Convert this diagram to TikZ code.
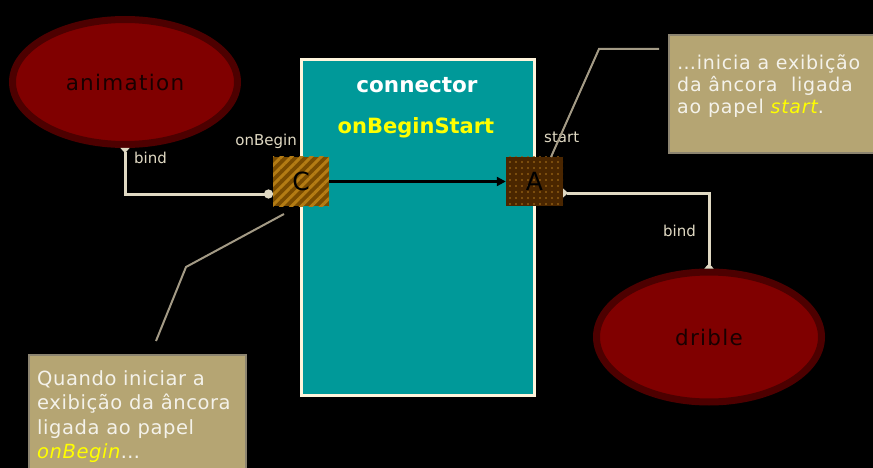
\documentclass[tikz,border=0pt]{standalone}
\usepackage{fontspec}
\setmainfont{DejaVu Sans}
\usetikzlibrary{shapes.geometric,patterns.meta,arrows.meta}
\definecolor{ellfill}{HTML}{800000}
\definecolor{ellborder}{HTML}{4D0000}
\definecolor{connteal}{HTML}{009999}
\definecolor{conncream}{HTML}{FFF5DC}
\definecolor{bindc}{HTML}{E0D9C3}
\definecolor{notec}{HTML}{B5A573}
\definecolor{noteborder}{HTML}{8C8470}
\definecolor{calloutc}{HTML}{A39A85}
\definecolor{yel}{HTML}{FFFF00}
\definecolor{notetext}{HTML}{F4F2EA}
\definecolor{cbase}{HTML}{7A4C00}
\definecolor{cstripe}{HTML}{B47C14}
\definecolor{abase}{HTML}{4A2600}
\definecolor{adot}{HTML}{8E5C12}
\tikzset{
  rolenode/.style={ellipse, draw=ellborder, line width=7pt, fill=ellfill,
    minimum width=225pt, minimum height=125pt, text=black!90!red,
    font=\fontsize{21.5}{24}\selectfont\addfontfeature{LetterSpace=6}},
  portC/.style={fill=cbase, postaction={pattern={Lines[angle=45,distance=7pt,line width=3pt]}, pattern color=cstripe},
    minimum width=56pt, minimum height=49pt, inner sep=0pt, font=\fontsize{25}{25}\selectfont, text=black},
  portA/.style={fill=abase, postaction={pattern={Dots[radius=1.1pt,distance=6pt]}, pattern color=adot},
    minimum width=57pt, minimum height=49pt, inner sep=0pt, font=\fontsize{25}{25}\selectfont, text=black},
  bindline/.style={draw=bindc, line width=3pt},
  calloutline/.style={draw=calloutc, line width=2pt},
  smalllabel/.style={text=bindc, font=\fontsize{15}{18}\selectfont, inner sep=0pt},
  notebox/.style={fill=notec, draw=noteborder, line width=2pt},
  notetxt/.style={text=notetext, align=left, inner sep=0pt, anchor=north west,
    font=\fontsize{19}{22}\selectfont\addfontfeature{LetterSpace=4}},
}
\begin{document}
\begin{tikzpicture}[x=1pt,y=-1pt]
\useasboundingbox (0,0) rectangle (873,468);
\fill[black] (0,0) rectangle (873,468);
\clip (0,0) rectangle (873,468);

% roles
\node[rolenode] (anim) at (125,82) {animation};
\node[rolenode, minimum height=130pt] (drib) at (709,337) {drible};

% connector box
\node[fill=connteal, draw=conncream, line width=2.5pt, minimum width=233pt, minimum height=336pt, inner sep=0pt] (conn) at (418,227.5) {};
\node[text=white, font=\fontsize{21.5}{24}\selectfont\bfseries] (connname) at (417,85) {connector};
\node[text=yel, font=\fontsize{21}{24}\selectfont\bfseries] (connid) at (416,128) {onBeginStart};

% ports
\node[portC] (C) at (301,181.5) {C};
\node[portA] (A) at (534.5,181.5) {A};
\node[smalllabel, anchor=south east] (lonb) at (297,149) {onBegin};
\node[smalllabel, anchor=south west] (lst) at (544,143) {start};

\draw[-{Triangle[length=9pt,width=9pt]}, line width=2.4pt, black] (C.east) -- (A.west);

% binds
\coordinate (cb) at (273,194);
\coordinate (ab) at (563,193);
\draw[bindline, {Circle[length=9pt]}-{Triangle[reversed,length=5pt,width=9pt]}] (cb) -| (anim.south);
\draw[bindline, {Triangle[reversed,length=5pt,width=9pt]}-{Triangle[reversed,length=5pt,width=9pt]}] (ab) -| (drib.north);
\node[smalllabel, anchor=west] (b1) at (134,158) {bind};
\node[smalllabel, anchor=east] (b2) at (696,231) {bind};

% notes
\node[notebox, minimum width=215pt, minimum height=118pt, anchor=north west] (noteR) at (668,34) {};
\node[notetxt] (noteRt) at (677,54.5) {…inicia a exibição\\da âncora\ \ ligada\\ao papel \textcolor{yel}{\itshape start}.};
\node[notebox, minimum width=217pt, minimum height=125pt, anchor=north west] (noteL) at (28,354) {};
\node[notetxt, font=\fontsize{19.5}{24.5}\selectfont\addfontfeature{LetterSpace=3}] (noteLt) at (37,370) {Quando iniciar a\\exibição da âncora\\ligada ao papel\\\textcolor{yel}{\itshape onBegin}…};

% callouts
\coordinate (r1) at (659,49);
\coordinate (r2) at (599,49);
\coordinate (r3) at (551,157);
\draw[calloutline] (r1) -- (r2) -- (r3);
\coordinate (l1) at (284,214);
\coordinate (l2) at (186,267);
\coordinate (l3) at (156,341);
\draw[calloutline] (l1) -- (l2) -- (l3);
\end{tikzpicture}
\end{document}
